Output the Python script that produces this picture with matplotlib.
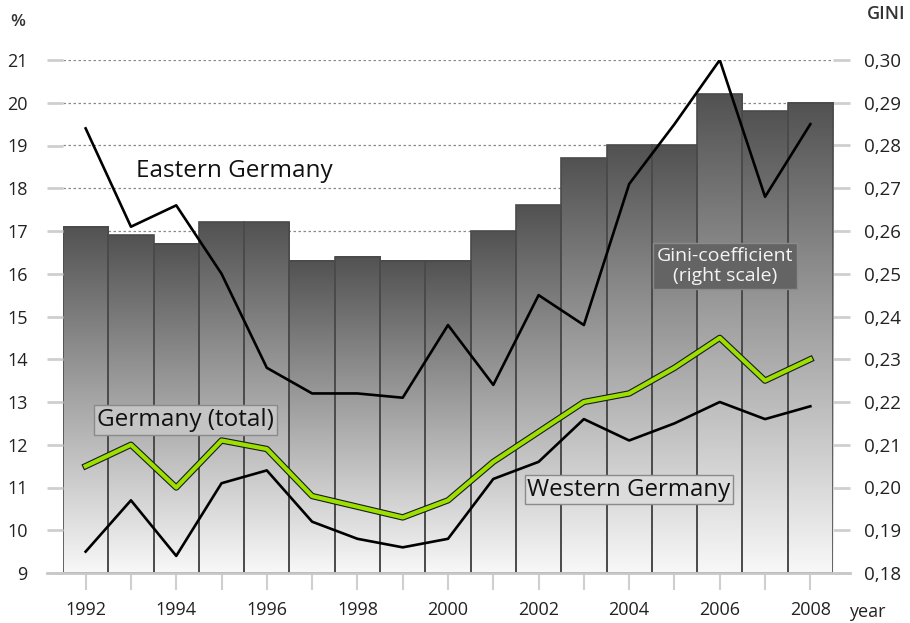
import numpy as np
import matplotlib
matplotlib.use('Agg')
import matplotlib.pyplot as plt
from matplotlib.colors import LinearSegmentedColormap

plt.rcParams['font.family'] = ['Open Sans', 'DejaVu Sans']

years = np.arange(1992, 2009)
gini = [0.261, 0.259, 0.257, 0.262, 0.262, 0.253, 0.254, 0.253, 0.253,
        0.260, 0.266, 0.277, 0.280, 0.280, 0.292, 0.288, 0.290]
east = [19.4, 17.1, 17.6, 16.0, 13.8, 13.2, 13.2, 13.1, 14.8,
        13.4, 15.5, 14.8, 18.1, 19.5, 21.0, 17.8, 19.5]
west = [9.5, 10.7, 9.4, 11.1, 11.4, 10.2, 9.8, 9.6, 9.8,
        11.2, 11.6, 12.6, 12.1, 12.5, 13.0, 12.6, 12.9]
total = [11.5, 12.0, 11.0, 12.1, 11.9, 10.8, 10.55, 10.3, 10.7,
         11.6, 12.3, 13.0, 13.2, 13.8, 14.5, 13.5, 14.0]
pct_ticks = np.arange(9, 22)
gini_ticks = np.round(np.arange(0.18, 0.3001, 0.01), 2)
gini_labels = [('%.2f' % g).replace('.', ',') for g in gini_ticks]
year_labels = [str(y) if y % 2 == 0 else '' for y in years]

fig = plt.figure(figsize=(9.1, 6.23), dpi=100)
ax = fig.add_axes([63/910, 50/623, 770/910, 513/623])
ax2 = ax.twinx()
# lines (left axis) must sit on top of the bars (right axis)
ax.set_zorder(ax2.get_zorder() + 1)
ax.patch.set_visible(False)

# gradient bars, gini on right scale
cmap = LinearSegmentedColormap.from_list('bar', ['#f8f8f8', '#525252'])
grad = np.linspace(0, 1, 256).reshape(-1, 1)
bars = ax2.bar(years, np.array(gini) - 0.18, bottom=0.18, width=1.0,
               facecolor='none', edgecolor='#4a4a4a', linewidth=1.2, zorder=2)
for b in bars:
    x0, y0 = b.get_x(), b.get_y()
    ax2.imshow(grad, cmap=cmap, aspect='auto', origin='lower', zorder=1,
               extent=(x0, x0 + b.get_width(), y0, y0 + b.get_height()))

ax2.set_ylim(0.18, 0.30)
ax2.set_yticks(gini_ticks)
ax2.set_yticklabels(gini_labels)
ax2.set_axisbelow(True)
ax2.grid(axis='y', color='#8a8a8a', linestyle=(0, (2, 2)), linewidth=0.9)

ax.plot(years, east, color='black', lw=1.9, zorder=5)
ax.plot(years, west, color='black', lw=1.9, zorder=5)
ax.plot(years, total, color='#1a1a1a', lw=4.6, zorder=5)
ax.plot(years, total, color='#9be000', lw=3.0, zorder=6)

ax.set_xlim(1991.5, 2008.5)
ax.set_ylim(9, 21)
ax.set_yticks(pct_ticks)
ax.set_xticks(years)
ax.set_xticklabels(year_labels)

for a in (ax, ax2):
    for s in a.spines.values():
        s.set_visible(False)
ax.tick_params(axis='y', length=11.5, width=2, color='#cfcfcf', labelsize=13,
               pad=14, labelcolor='#222222')
ax2.tick_params(axis='y', length=12, width=2, color='#cfcfcf', labelsize=13.5,
                pad=10, labelcolor='#222222')
ax.tick_params(axis='x', length=12, width=1.5, color='#cfcfcf', labelsize=13,
               pad=8, labelcolor='#222222')
ax.axhline(9, xmin=-16/770, xmax=1 + 17/770, color='#c8c8c8', lw=2,
           clip_on=False, zorder=3)

fig.text(18/910, 1 - 22/623, '%', fontsize=12.5, fontweight='semibold', ha='center',
         va='center', color='#333333')
fig.text(886/910, 1 - 14/623, 'GINI', fontsize=13, fontweight='semibold', ha='center',
         va='center', color='#333333')
fig.text(867/910, 1 - 612/623, 'year', fontsize=13, ha='center', va='center',
         color='#222222')

ax.text(1995.28, 18.4, 'Eastern Germany', fontsize=17.5, color='#111111',
        ha='center', va='center')
ax.text(1994.2, 12.58, 'Germany (total)', fontsize=17.5, color='#111111',
        ha='center', va='center',
        bbox=dict(boxstyle='square,pad=0.12', fc='#c4c4c4', ec='#8a8a8a', lw=1))
ax.text(2003.99, 10.95, 'Western Germany', fontsize=17.3, color='#111111',
        ha='center', va='center',
        bbox=dict(boxstyle='square,pad=0.1', fc='#dcdcdc', ec='#8a8a8a', lw=1))
ax.text(2006.11, 16.19, 'Gini-coefficient\n(right scale)', fontsize=14, color='#f4f4f4',
        ha='center', va='center', linespacing=1.15,
        bbox=dict(boxstyle='square,pad=0.2', fc='#646464', ec='#8a8a8a', lw=1))

fig.savefig('out.png', dpi=100)
